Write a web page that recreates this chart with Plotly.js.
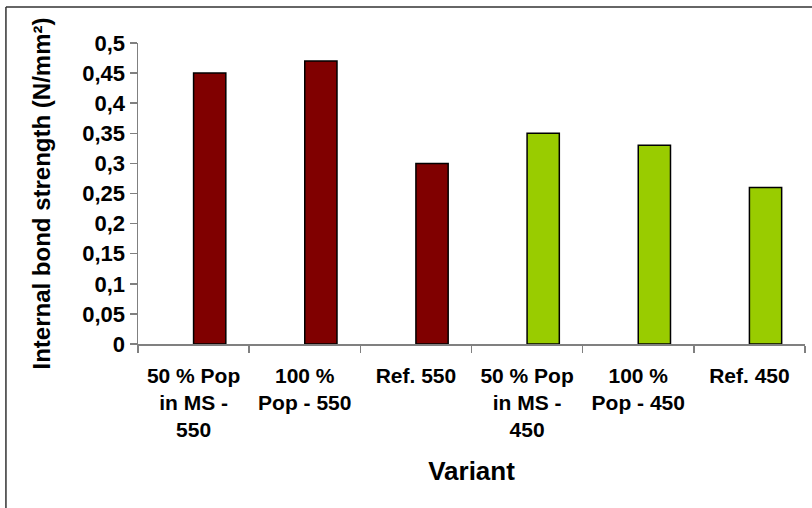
<!DOCTYPE html>
<html>
<head>
<meta charset="utf-8">
<script src="https://cdn.plot.ly/plotly-3.0.1.min.js"></script>
<style>html,body{margin:0;padding:0;background:#fff;}#chart{width:812px;height:508px;}</style>
</head>
<body>
<div id="chart"></div>
<script>
const categories = [
  "50 % Pop<br>in MS -<br>550",
  "100 %<br>Pop - 550",
  "Ref. 550",
  "50 % Pop<br>in MS -<br>450",
  "100 %<br>Pop - 450",
  "Ref. 450"
];
const series550 = [0.45, 0.47, 0.30, null, null, null];
const series450 = [null, null, null, 0.35, 0.33, 0.26];
const yTitle = "Internal bond strength (N/mm²)";
const xTitle = "Variant";

const fontFam = "Liberation Sans, Arial, sans-serif";
const yTickFont = {family: fontFam, size: 22, color: "#000", weight: "bold"};
const xTickFont = {family: fontFam, size: 21, color: "#000", weight: "bold"};

const traces = [
  {type: "bar", name: "550", x: categories, y: series550, width: 0.29, offset: 0,
   marker: {color: "#800000", line: {color: "#000", width: 1.5}}, hoverinfo: "y"},
  {type: "bar", name: "450", x: categories, y: series450, width: 0.29, offset: 0,
   marker: {color: "#99CC00", line: {color: "#000", width: 1.5}}, hoverinfo: "y"}
];

const layout = {
  width: 812, height: 508,
  margin: {l: 138, r: 7, t: 43, b: 164},
  paper_bgcolor: "#fff", plot_bgcolor: "#fff",
  showlegend: false,
  barmode: "overlay",
  separators: ", ",
  xaxis: {
    type: "category",
    tickson: "boundaries",
    ticks: "outside", ticklen: 7, tickcolor: "#808080", tickwidth: 1.5,
    showline: true, linecolor: "#808080", linewidth: 1.5,
    showgrid: false, zeroline: false,
    tickfont: xTickFont,
    ticklabelstandoff: 12,
    title: {text: xTitle, font: {family: fontFam, size: 26, color: "#000", weight: "bold"}, standoff: 21}
  },
  yaxis: {
    range: [0, 0.5], dtick: 0.05, tick0: 0,
    ticks: "outside", ticklen: 7, tickcolor: "#808080", tickwidth: 1.5,
    showline: true, linecolor: "#808080", linewidth: 1.5,
    showgrid: false, zeroline: false,
    tickfont: yTickFont,
    title: {text: yTitle, font: {family: fontFam, size: 24, color: "#000", weight: "bold"}, standoff: 25}
  },
  shapes: [
    {type: "line", xref: "paper", yref: "paper", x0: -0.198, x1: 1.02, y0: 1.1196, y1: 1.1196, line: {color: "#333", width: 1.5}},
    {type: "line", xref: "paper", yref: "paper", x0: -0.198, x1: -0.198, y0: 1.1196, y1: -0.56, line: {color: "#333", width: 1.5}}
  ]
};

Plotly.newPlot("chart", traces, layout, {displayModeBar: false, staticPlot: true});
</script>
</body>
</html>
